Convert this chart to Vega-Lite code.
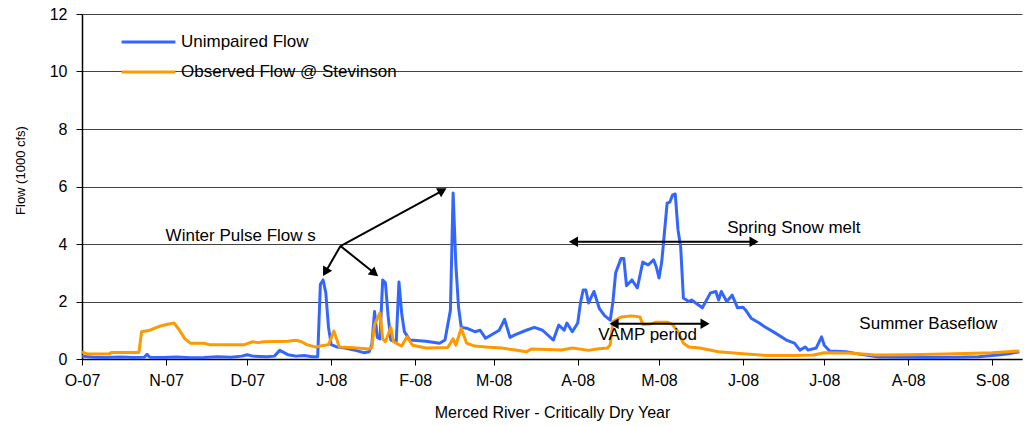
{
  "$schema": "https://vega.github.io/schema/vega-lite/v6.json",
  "width": 940,
  "height": 345,
  "autosize": {"type": "none"},
  "padding": {"left": 82, "top": 14, "right": 2, "bottom": 67},
  "background": "white",
  "config": {
    "font": "Liberation Sans",
    "view": {"stroke": null}
  },
  "datasets": {
    "flow": [
      {"date": "2007-10-01", "series": "Unimpaired Flow", "flow": 0.1},
      {"date": "2007-10-05", "series": "Unimpaired Flow", "flow": 0.06},
      {"date": "2007-10-10", "series": "Unimpaired Flow", "flow": 0.05},
      {"date": "2007-10-15", "series": "Unimpaired Flow", "flow": 0.07},
      {"date": "2007-10-20", "series": "Unimpaired Flow", "flow": 0.05},
      {"date": "2007-10-24", "series": "Unimpaired Flow", "flow": 0.06},
      {"date": "2007-10-25", "series": "Unimpaired Flow", "flow": 0.16},
      {"date": "2007-10-26", "series": "Unimpaired Flow", "flow": 0.06},
      {"date": "2007-10-31", "series": "Unimpaired Flow", "flow": 0.05},
      {"date": "2007-11-05", "series": "Unimpaired Flow", "flow": 0.07},
      {"date": "2007-11-10", "series": "Unimpaired Flow", "flow": 0.04},
      {"date": "2007-11-15", "series": "Unimpaired Flow", "flow": 0.05},
      {"date": "2007-11-20", "series": "Unimpaired Flow", "flow": 0.08},
      {"date": "2007-11-25", "series": "Unimpaired Flow", "flow": 0.06},
      {"date": "2007-11-29", "series": "Unimpaired Flow", "flow": 0.1},
      {"date": "2007-12-01", "series": "Unimpaired Flow", "flow": 0.15},
      {"date": "2007-12-03", "series": "Unimpaired Flow", "flow": 0.1},
      {"date": "2007-12-08", "series": "Unimpaired Flow", "flow": 0.08},
      {"date": "2007-12-11", "series": "Unimpaired Flow", "flow": 0.1},
      {"date": "2007-12-13", "series": "Unimpaired Flow", "flow": 0.3},
      {"date": "2007-12-16", "series": "Unimpaired Flow", "flow": 0.15},
      {"date": "2007-12-19", "series": "Unimpaired Flow", "flow": 0.1},
      {"date": "2007-12-22", "series": "Unimpaired Flow", "flow": 0.12},
      {"date": "2007-12-25", "series": "Unimpaired Flow", "flow": 0.08},
      {"date": "2007-12-27", "series": "Unimpaired Flow", "flow": 0.08},
      {"date": "2007-12-28", "series": "Unimpaired Flow", "flow": 2.6},
      {"date": "2007-12-29", "series": "Unimpaired Flow", "flow": 2.75},
      {"date": "2007-12-30", "series": "Unimpaired Flow", "flow": 2.3},
      {"date": "2007-12-31", "series": "Unimpaired Flow", "flow": 1.1},
      {"date": "2008-01-01", "series": "Unimpaired Flow", "flow": 0.5},
      {"date": "2008-01-03", "series": "Unimpaired Flow", "flow": 0.42},
      {"date": "2008-01-06", "series": "Unimpaired Flow", "flow": 0.38},
      {"date": "2008-01-10", "series": "Unimpaired Flow", "flow": 0.3},
      {"date": "2008-01-13", "series": "Unimpaired Flow", "flow": 0.22},
      {"date": "2008-01-15", "series": "Unimpaired Flow", "flow": 0.25},
      {"date": "2008-01-16", "series": "Unimpaired Flow", "flow": 0.5},
      {"date": "2008-01-17", "series": "Unimpaired Flow", "flow": 1.65},
      {"date": "2008-01-18", "series": "Unimpaired Flow", "flow": 0.75},
      {"date": "2008-01-19", "series": "Unimpaired Flow", "flow": 0.7},
      {"date": "2008-01-20", "series": "Unimpaired Flow", "flow": 2.75},
      {"date": "2008-01-21", "series": "Unimpaired Flow", "flow": 2.65},
      {"date": "2008-01-22", "series": "Unimpaired Flow", "flow": 1.5},
      {"date": "2008-01-23", "series": "Unimpaired Flow", "flow": 0.66},
      {"date": "2008-01-25", "series": "Unimpaired Flow", "flow": 0.6},
      {"date": "2008-01-26", "series": "Unimpaired Flow", "flow": 2.68},
      {"date": "2008-01-27", "series": "Unimpaired Flow", "flow": 1.6},
      {"date": "2008-01-28", "series": "Unimpaired Flow", "flow": 0.95},
      {"date": "2008-01-30", "series": "Unimpaired Flow", "flow": 0.66},
      {"date": "2008-02-05", "series": "Unimpaired Flow", "flow": 0.62},
      {"date": "2008-02-10", "series": "Unimpaired Flow", "flow": 0.55},
      {"date": "2008-02-12", "series": "Unimpaired Flow", "flow": 0.66},
      {"date": "2008-02-14", "series": "Unimpaired Flow", "flow": 1.7},
      {"date": "2008-02-15", "series": "Unimpaired Flow", "flow": 5.77},
      {"date": "2008-02-16", "series": "Unimpaired Flow", "flow": 3.3},
      {"date": "2008-02-17", "series": "Unimpaired Flow", "flow": 1.8},
      {"date": "2008-02-18", "series": "Unimpaired Flow", "flow": 1.1},
      {"date": "2008-02-20", "series": "Unimpaired Flow", "flow": 1.07},
      {"date": "2008-02-23", "series": "Unimpaired Flow", "flow": 0.95},
      {"date": "2008-02-25", "series": "Unimpaired Flow", "flow": 1.0},
      {"date": "2008-02-27", "series": "Unimpaired Flow", "flow": 0.72},
      {"date": "2008-03-03", "series": "Unimpaired Flow", "flow": 1.0},
      {"date": "2008-03-05", "series": "Unimpaired Flow", "flow": 1.38},
      {"date": "2008-03-07", "series": "Unimpaired Flow", "flow": 0.75},
      {"date": "2008-03-09", "series": "Unimpaired Flow", "flow": 0.85},
      {"date": "2008-03-13", "series": "Unimpaired Flow", "flow": 1.0},
      {"date": "2008-03-16", "series": "Unimpaired Flow", "flow": 1.1},
      {"date": "2008-03-19", "series": "Unimpaired Flow", "flow": 1.0},
      {"date": "2008-03-23", "series": "Unimpaired Flow", "flow": 0.66},
      {"date": "2008-03-25", "series": "Unimpaired Flow", "flow": 1.18},
      {"date": "2008-03-27", "series": "Unimpaired Flow", "flow": 1.0},
      {"date": "2008-03-28", "series": "Unimpaired Flow", "flow": 1.25},
      {"date": "2008-03-30", "series": "Unimpaired Flow", "flow": 0.95},
      {"date": "2008-04-01", "series": "Unimpaired Flow", "flow": 1.25},
      {"date": "2008-04-02", "series": "Unimpaired Flow", "flow": 1.95},
      {"date": "2008-04-03", "series": "Unimpaired Flow", "flow": 2.4},
      {"date": "2008-04-04", "series": "Unimpaired Flow", "flow": 2.4},
      {"date": "2008-04-05", "series": "Unimpaired Flow", "flow": 1.95},
      {"date": "2008-04-07", "series": "Unimpaired Flow", "flow": 2.35},
      {"date": "2008-04-09", "series": "Unimpaired Flow", "flow": 1.75},
      {"date": "2008-04-11", "series": "Unimpaired Flow", "flow": 1.5},
      {"date": "2008-04-13", "series": "Unimpaired Flow", "flow": 1.35},
      {"date": "2008-04-14", "series": "Unimpaired Flow", "flow": 2.0},
      {"date": "2008-04-15", "series": "Unimpaired Flow", "flow": 3.0},
      {"date": "2008-04-17", "series": "Unimpaired Flow", "flow": 3.5},
      {"date": "2008-04-18", "series": "Unimpaired Flow", "flow": 3.5},
      {"date": "2008-04-19", "series": "Unimpaired Flow", "flow": 2.55},
      {"date": "2008-04-21", "series": "Unimpaired Flow", "flow": 2.75},
      {"date": "2008-04-23", "series": "Unimpaired Flow", "flow": 2.47},
      {"date": "2008-04-25", "series": "Unimpaired Flow", "flow": 3.37},
      {"date": "2008-04-27", "series": "Unimpaired Flow", "flow": 3.27},
      {"date": "2008-04-29", "series": "Unimpaired Flow", "flow": 3.45},
      {"date": "2008-04-30", "series": "Unimpaired Flow", "flow": 3.2},
      {"date": "2008-05-01", "series": "Unimpaired Flow", "flow": 2.82},
      {"date": "2008-05-02", "series": "Unimpaired Flow", "flow": 3.37},
      {"date": "2008-05-04", "series": "Unimpaired Flow", "flow": 5.42},
      {"date": "2008-05-05", "series": "Unimpaired Flow", "flow": 5.46},
      {"date": "2008-05-06", "series": "Unimpaired Flow", "flow": 5.7},
      {"date": "2008-05-07", "series": "Unimpaired Flow", "flow": 5.74},
      {"date": "2008-05-08", "series": "Unimpaired Flow", "flow": 4.5},
      {"date": "2008-05-09", "series": "Unimpaired Flow", "flow": 3.9},
      {"date": "2008-05-10", "series": "Unimpaired Flow", "flow": 2.12},
      {"date": "2008-05-12", "series": "Unimpaired Flow", "flow": 2.0},
      {"date": "2008-05-13", "series": "Unimpaired Flow", "flow": 2.05},
      {"date": "2008-05-17", "series": "Unimpaired Flow", "flow": 1.78},
      {"date": "2008-05-20", "series": "Unimpaired Flow", "flow": 2.3},
      {"date": "2008-05-22", "series": "Unimpaired Flow", "flow": 2.35},
      {"date": "2008-05-23", "series": "Unimpaired Flow", "flow": 2.05},
      {"date": "2008-05-24", "series": "Unimpaired Flow", "flow": 2.35},
      {"date": "2008-05-26", "series": "Unimpaired Flow", "flow": 2.0},
      {"date": "2008-05-28", "series": "Unimpaired Flow", "flow": 2.22},
      {"date": "2008-05-30", "series": "Unimpaired Flow", "flow": 1.78},
      {"date": "2008-06-01", "series": "Unimpaired Flow", "flow": 1.8},
      {"date": "2008-06-02", "series": "Unimpaired Flow", "flow": 1.7},
      {"date": "2008-06-04", "series": "Unimpaired Flow", "flow": 1.42},
      {"date": "2008-06-07", "series": "Unimpaired Flow", "flow": 1.25},
      {"date": "2008-06-09", "series": "Unimpaired Flow", "flow": 1.12},
      {"date": "2008-06-13", "series": "Unimpaired Flow", "flow": 0.9},
      {"date": "2008-06-17", "series": "Unimpaired Flow", "flow": 0.66},
      {"date": "2008-06-20", "series": "Unimpaired Flow", "flow": 0.55},
      {"date": "2008-06-22", "series": "Unimpaired Flow", "flow": 0.31},
      {"date": "2008-06-24", "series": "Unimpaired Flow", "flow": 0.42},
      {"date": "2008-06-25", "series": "Unimpaired Flow", "flow": 0.31},
      {"date": "2008-06-28", "series": "Unimpaired Flow", "flow": 0.38},
      {"date": "2008-06-30", "series": "Unimpaired Flow", "flow": 0.77},
      {"date": "2008-07-01", "series": "Unimpaired Flow", "flow": 0.48},
      {"date": "2008-07-03", "series": "Unimpaired Flow", "flow": 0.28},
      {"date": "2008-07-09", "series": "Unimpaired Flow", "flow": 0.25},
      {"date": "2008-07-14", "series": "Unimpaired Flow", "flow": 0.17},
      {"date": "2008-07-21", "series": "Unimpaired Flow", "flow": 0.07},
      {"date": "2008-07-28", "series": "Unimpaired Flow", "flow": 0.06},
      {"date": "2008-08-09", "series": "Unimpaired Flow", "flow": 0.05},
      {"date": "2008-08-19", "series": "Unimpaired Flow", "flow": 0.06},
      {"date": "2008-08-27", "series": "Unimpaired Flow", "flow": 0.08},
      {"date": "2008-09-03", "series": "Unimpaired Flow", "flow": 0.14},
      {"date": "2008-09-07", "series": "Unimpaired Flow", "flow": 0.18},
      {"date": "2008-09-11", "series": "Unimpaired Flow", "flow": 0.25},
      {"date": "2007-10-01", "series": "Observed Flow  @ Stevinson", "flow": 0.25},
      {"date": "2007-10-03", "series": "Observed Flow  @ Stevinson", "flow": 0.17},
      {"date": "2007-10-08", "series": "Observed Flow  @ Stevinson", "flow": 0.17},
      {"date": "2007-10-11", "series": "Observed Flow  @ Stevinson", "flow": 0.18},
      {"date": "2007-10-12", "series": "Observed Flow  @ Stevinson", "flow": 0.23},
      {"date": "2007-10-22", "series": "Observed Flow  @ Stevinson", "flow": 0.23},
      {"date": "2007-10-23", "series": "Observed Flow  @ Stevinson", "flow": 0.95},
      {"date": "2007-10-26", "series": "Observed Flow  @ Stevinson", "flow": 1.0},
      {"date": "2007-10-30", "series": "Observed Flow  @ Stevinson", "flow": 1.15},
      {"date": "2007-11-02", "series": "Observed Flow  @ Stevinson", "flow": 1.22},
      {"date": "2007-11-04", "series": "Observed Flow  @ Stevinson", "flow": 1.25},
      {"date": "2007-11-06", "series": "Observed Flow  @ Stevinson", "flow": 1.0},
      {"date": "2007-11-08", "series": "Observed Flow  @ Stevinson", "flow": 0.7},
      {"date": "2007-11-10", "series": "Observed Flow  @ Stevinson", "flow": 0.55},
      {"date": "2007-11-15", "series": "Observed Flow  @ Stevinson", "flow": 0.55},
      {"date": "2007-11-17", "series": "Observed Flow  @ Stevinson", "flow": 0.5},
      {"date": "2007-11-30", "series": "Observed Flow  @ Stevinson", "flow": 0.5},
      {"date": "2007-12-03", "series": "Observed Flow  @ Stevinson", "flow": 0.6},
      {"date": "2007-12-05", "series": "Observed Flow  @ Stevinson", "flow": 0.57},
      {"date": "2007-12-07", "series": "Observed Flow  @ Stevinson", "flow": 0.6},
      {"date": "2007-12-16", "series": "Observed Flow  @ Stevinson", "flow": 0.62},
      {"date": "2007-12-19", "series": "Observed Flow  @ Stevinson", "flow": 0.65},
      {"date": "2007-12-21", "series": "Observed Flow  @ Stevinson", "flow": 0.6},
      {"date": "2007-12-23", "series": "Observed Flow  @ Stevinson", "flow": 0.5},
      {"date": "2007-12-26", "series": "Observed Flow  @ Stevinson", "flow": 0.42},
      {"date": "2007-12-28", "series": "Observed Flow  @ Stevinson", "flow": 0.45},
      {"date": "2007-12-31", "series": "Observed Flow  @ Stevinson", "flow": 0.5},
      {"date": "2008-01-02", "series": "Observed Flow  @ Stevinson", "flow": 0.97},
      {"date": "2008-01-04", "series": "Observed Flow  @ Stevinson", "flow": 0.42},
      {"date": "2008-01-08", "series": "Observed Flow  @ Stevinson", "flow": 0.4},
      {"date": "2008-01-15", "series": "Observed Flow  @ Stevinson", "flow": 0.35},
      {"date": "2008-01-16", "series": "Observed Flow  @ Stevinson", "flow": 0.4},
      {"date": "2008-01-17", "series": "Observed Flow  @ Stevinson", "flow": 1.2},
      {"date": "2008-01-19", "series": "Observed Flow  @ Stevinson", "flow": 1.6},
      {"date": "2008-01-20", "series": "Observed Flow  @ Stevinson", "flow": 0.7},
      {"date": "2008-01-21", "series": "Observed Flow  @ Stevinson", "flow": 0.6},
      {"date": "2008-01-23", "series": "Observed Flow  @ Stevinson", "flow": 1.1},
      {"date": "2008-01-24", "series": "Observed Flow  @ Stevinson", "flow": 0.6},
      {"date": "2008-01-27", "series": "Observed Flow  @ Stevinson", "flow": 0.45},
      {"date": "2008-01-29", "series": "Observed Flow  @ Stevinson", "flow": 0.77},
      {"date": "2008-01-31", "series": "Observed Flow  @ Stevinson", "flow": 0.48},
      {"date": "2008-02-05", "series": "Observed Flow  @ Stevinson", "flow": 0.38},
      {"date": "2008-02-13", "series": "Observed Flow  @ Stevinson", "flow": 0.4},
      {"date": "2008-02-15", "series": "Observed Flow  @ Stevinson", "flow": 0.7},
      {"date": "2008-02-16", "series": "Observed Flow  @ Stevinson", "flow": 0.48},
      {"date": "2008-02-18", "series": "Observed Flow  @ Stevinson", "flow": 1.07},
      {"date": "2008-02-20", "series": "Observed Flow  @ Stevinson", "flow": 0.55},
      {"date": "2008-02-23", "series": "Observed Flow  @ Stevinson", "flow": 0.45},
      {"date": "2008-02-27", "series": "Observed Flow  @ Stevinson", "flow": 0.42},
      {"date": "2008-03-04", "series": "Observed Flow  @ Stevinson", "flow": 0.38},
      {"date": "2008-03-09", "series": "Observed Flow  @ Stevinson", "flow": 0.31},
      {"date": "2008-03-13", "series": "Observed Flow  @ Stevinson", "flow": 0.25},
      {"date": "2008-03-15", "series": "Observed Flow  @ Stevinson", "flow": 0.35},
      {"date": "2008-03-26", "series": "Observed Flow  @ Stevinson", "flow": 0.31},
      {"date": "2008-03-30", "series": "Observed Flow  @ Stevinson", "flow": 0.38},
      {"date": "2008-04-05", "series": "Observed Flow  @ Stevinson", "flow": 0.3},
      {"date": "2008-04-08", "series": "Observed Flow  @ Stevinson", "flow": 0.35},
      {"date": "2008-04-12", "series": "Observed Flow  @ Stevinson", "flow": 0.38},
      {"date": "2008-04-13", "series": "Observed Flow  @ Stevinson", "flow": 0.5},
      {"date": "2008-04-14", "series": "Observed Flow  @ Stevinson", "flow": 1.3},
      {"date": "2008-04-17", "series": "Observed Flow  @ Stevinson", "flow": 1.46},
      {"date": "2008-04-21", "series": "Observed Flow  @ Stevinson", "flow": 1.5},
      {"date": "2008-04-24", "series": "Observed Flow  @ Stevinson", "flow": 1.46},
      {"date": "2008-04-25", "series": "Observed Flow  @ Stevinson", "flow": 1.2},
      {"date": "2008-04-28", "series": "Observed Flow  @ Stevinson", "flow": 1.22},
      {"date": "2008-04-30", "series": "Observed Flow  @ Stevinson", "flow": 1.28},
      {"date": "2008-05-04", "series": "Observed Flow  @ Stevinson", "flow": 1.28},
      {"date": "2008-05-06", "series": "Observed Flow  @ Stevinson", "flow": 1.2},
      {"date": "2008-05-08", "series": "Observed Flow  @ Stevinson", "flow": 0.95},
      {"date": "2008-05-10", "series": "Observed Flow  @ Stevinson", "flow": 0.55},
      {"date": "2008-05-12", "series": "Observed Flow  @ Stevinson", "flow": 0.42},
      {"date": "2008-05-16", "series": "Observed Flow  @ Stevinson", "flow": 0.38},
      {"date": "2008-05-23", "series": "Observed Flow  @ Stevinson", "flow": 0.25},
      {"date": "2008-06-01", "series": "Observed Flow  @ Stevinson", "flow": 0.18},
      {"date": "2008-06-10", "series": "Observed Flow  @ Stevinson", "flow": 0.12},
      {"date": "2008-06-20", "series": "Observed Flow  @ Stevinson", "flow": 0.12},
      {"date": "2008-06-27", "series": "Observed Flow  @ Stevinson", "flow": 0.14},
      {"date": "2008-07-01", "series": "Observed Flow  @ Stevinson", "flow": 0.22},
      {"date": "2008-07-10", "series": "Observed Flow  @ Stevinson", "flow": 0.21},
      {"date": "2008-07-20", "series": "Observed Flow  @ Stevinson", "flow": 0.14},
      {"date": "2008-08-01", "series": "Observed Flow  @ Stevinson", "flow": 0.15},
      {"date": "2008-08-15", "series": "Observed Flow  @ Stevinson", "flow": 0.17},
      {"date": "2008-09-01", "series": "Observed Flow  @ Stevinson", "flow": 0.22},
      {"date": "2008-09-11", "series": "Observed Flow  @ Stevinson", "flow": 0.28}
    ],
    "arrows": [
      {"x1": "2008-01-04T10:00Z", "y1": 3.93, "x2": "2007-12-29T20:00Z", "y2": 3.02},
      {"x1": "2008-01-04T10:00Z", "y1": 3.93, "x2": "2008-01-17T00:00Z", "y2": 2.98},
      {"x1": "2008-01-04T10:00Z", "y1": 3.93, "x2": "2008-02-11T02:00Z", "y2": 5.86},
      {"x1": "2008-03-30T10:00Z", "y1": 4.08, "x2": "2008-06-05T02:00Z", "y2": 4.08},
      {"x1": "2008-04-14T10:00Z", "y1": 1.23, "x2": "2008-05-18T00:00Z", "y2": 1.23}
    ],
    "heads": [
      {"head": "w1", "x": "2007-12-29T20:00Z", "y": 3.02},
      {"head": "w2", "x": "2008-01-17T00:00Z", "y": 2.98},
      {"head": "w3", "x": "2008-02-11T02:00Z", "y": 5.86},
      {"head": "left", "x": "2008-03-30T10:00Z", "y": 4.08},
      {"head": "right", "x": "2008-06-05T02:00Z", "y": 4.08},
      {"head": "left", "x": "2008-04-14T10:00Z", "y": 1.23},
      {"head": "right", "x": "2008-05-18T00:00Z", "y": 1.23}
    ],
    "notes": [
      {"label": "Winter Pulse Flow s", "x": "2007-11-28T14:00Z", "y": 4.28},
      {"label": "Spring Snow melt", "x": "2008-06-19T19:00Z", "y": 4.56},
      {"label": "VAMP period", "x": "2008-04-26T19:00Z", "y": 0.83},
      {"label": "Summer Baseflow", "x": "2008-08-08T10:00Z", "y": 1.22}
    ]
  },
  "layer": [
    {
      "data": {"name": "flow"},
      "mark": {"type": "line", "strokeWidth": 3, "strokeJoin": "round"},
      "encoding": {
        "x": {
          "field": "date",
          "type": "temporal",
          "title": "Merced River - Critically Dry Year",
          "scale": {
            "type": "utc",
            "domain": [
              {"year": 2007, "month": 10, "date": 1, "utc": true},
              {"year": 2008, "month": 9, "date": 12, "utc": true}
            ]
          },
          "axis": {
            "values": [
              {"year": 2007, "month": 10, "date": 1, "utc": true},
              {"year": 2007, "month": 11, "date": 1, "utc": true},
              {"year": 2007, "month": 12, "date": 1, "utc": true},
              {"year": 2008, "month": 1, "date": 1, "utc": true},
              {"year": 2008, "month": 2, "date": 1, "utc": true},
              {"year": 2008, "month": 3, "date": 1, "utc": true},
              {"year": 2008, "month": 4, "date": 1, "utc": true},
              {"year": 2008, "month": 5, "date": 1, "utc": true},
              {"year": 2008, "month": 6, "date": 1, "utc": true},
              {"year": 2008, "month": 7, "date": 1, "utc": true},
              {"year": 2008, "month": 8, "date": 1, "utc": true},
              {"year": 2008, "month": 9, "date": 1, "utc": true}
            ],
            "labelExpr": "substring(utcFormat(datum.value, '%b'), 0, 1) + '-' + utcFormat(datum.value, '%y')",
            "grid": false,
            "domainColor": "black",
            "domainWidth": 1.5,
            "tickColor": "black",
            "tickSize": 6,
            "labelFontSize": 16,
            "labelColor": "black",
            "labelPadding": 7,
            "labelFlush": false,
            "labelOverlap": false,
            "titleFontSize": 16,
            "titleFontWeight": "normal",
            "titleColor": "black",
            "titleY": 53,
            "titleBaseline": "middle"
          }
        },
        "y": {
          "field": "flow",
          "type": "quantitative",
          "title": "Flow (1000 cfs)",
          "scale": {"domain": [0, 12]},
          "axis": {
            "values": [0, 2, 4, 6, 8, 10, 12],
            "grid": true,
            "gridColor": "#444444",
            "gridWidth": 1,
            "domainColor": "black",
            "domainWidth": 1.5,
            "tickColor": "black",
            "tickSize": 6,
            "labelFontSize": 16,
            "labelColor": "black",
            "labelPadding": 9,
            "titleFontSize": 13,
            "titleFontWeight": "normal",
            "titleColor": "black",
            "titleX": -62,
            "titleY": 156,
            "titleBaseline": "middle"
          }
        },
        "color": {
          "field": "series",
          "type": "nominal",
          "scale": {
            "domain": ["Unimpaired Flow", "Observed Flow  @ Stevinson"],
            "range": ["#3366FF", "#FF9900"]
          },
          "legend": {
            "orient": "none",
            "legendX": 38,
            "legendY": 18,
            "title": null,
            "symbolType": "stroke",
            "symbolSize": 2900,
            "symbolStrokeWidth": 3,
            "labelFontSize": 17,
            "labelColor": "black",
            "labelOffset": 4,
            "labelLimit": 400,
            "padding": 0,
            "rowPadding": 10,
            "clipHeight": 20
          }
        }
      }
    },
    {
      "data": {"name": "arrows"},
      "mark": {"type": "rule", "strokeWidth": 2, "color": "black"},
      "encoding": {
        "x": {"field": "x1", "type": "temporal", "title": "Merced River - Critically Dry Year"},
        "y": {"field": "y1", "type": "quantitative", "title": "Flow (1000 cfs)"},
        "x2": {"field": "x2"},
        "y2": {"field": "y2"}
      }
    },
    {
      "data": {"name": "heads"},
      "transform": [{"filter": "datum.head == 'w1'"}],
      "mark": {"type": "point", "shape": "triangle-up", "size": 110, "filled": true, "opacity": 1, "color": "black", "angle": 210},
      "encoding": {
        "x": {"field": "x", "type": "temporal", "title": "Merced River - Critically Dry Year"},
        "y": {"field": "y", "type": "quantitative", "title": "Flow (1000 cfs)"}
      }
    },
    {
      "data": {"name": "heads"},
      "transform": [{"filter": "datum.head == 'w2'"}],
      "mark": {"type": "point", "shape": "triangle-up", "size": 110, "filled": true, "opacity": 1, "color": "black", "angle": 129},
      "encoding": {
        "x": {"field": "x", "type": "temporal", "title": "Merced River - Critically Dry Year"},
        "y": {"field": "y", "type": "quantitative", "title": "Flow (1000 cfs)"}
      }
    },
    {
      "data": {"name": "heads"},
      "transform": [{"filter": "datum.head == 'w3'"}],
      "mark": {"type": "point", "shape": "triangle-up", "size": 110, "filled": true, "opacity": 1, "color": "black", "angle": 61},
      "encoding": {
        "x": {"field": "x", "type": "temporal", "title": "Merced River - Critically Dry Year"},
        "y": {"field": "y", "type": "quantitative", "title": "Flow (1000 cfs)"}
      }
    },
    {
      "data": {"name": "heads"},
      "transform": [{"filter": "datum.head == 'left'"}],
      "mark": {"type": "point", "shape": "triangle-up", "size": 110, "filled": true, "opacity": 1, "color": "black", "angle": 270},
      "encoding": {
        "x": {"field": "x", "type": "temporal", "title": "Merced River - Critically Dry Year"},
        "y": {"field": "y", "type": "quantitative", "title": "Flow (1000 cfs)"}
      }
    },
    {
      "data": {"name": "heads"},
      "transform": [{"filter": "datum.head == 'right'"}],
      "mark": {"type": "point", "shape": "triangle-up", "size": 110, "filled": true, "opacity": 1, "color": "black", "angle": 90},
      "encoding": {
        "x": {"field": "x", "type": "temporal", "title": "Merced River - Critically Dry Year"},
        "y": {"field": "y", "type": "quantitative", "title": "Flow (1000 cfs)"}
      }
    },
    {
      "data": {"name": "notes"},
      "mark": {"type": "text", "fontSize": 17, "align": "center", "baseline": "middle", "color": "black"},
      "encoding": {
        "x": {"field": "x", "type": "temporal", "title": "Merced River - Critically Dry Year"},
        "y": {"field": "y", "type": "quantitative", "title": "Flow (1000 cfs)"},
        "text": {"field": "label"}
      }
    }
  ]
}
